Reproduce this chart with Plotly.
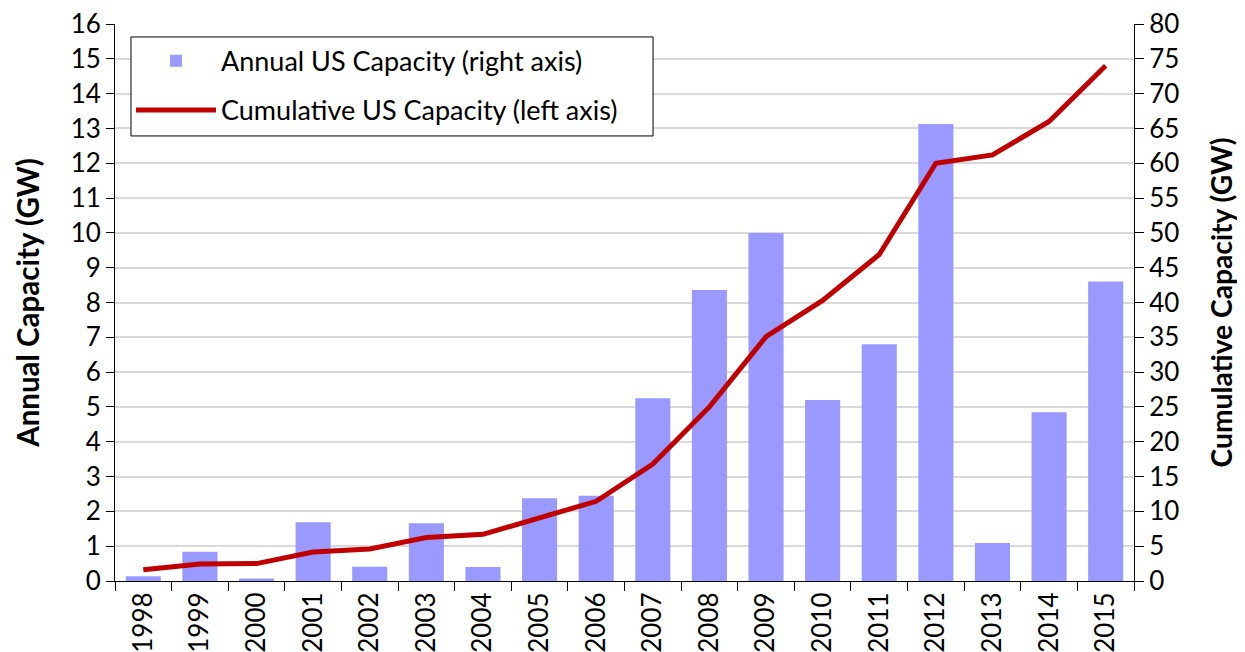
import plotly.graph_objects as go

years = ["1998", "1999", "2000", "2001", "2002", "2003", "2004", "2005", "2006",
         "2007", "2008", "2009", "2010", "2011", "2012", "2013", "2014", "2015"]
annual_gw = [0.14, 0.84, 0.07, 1.69, 0.41, 1.66, 0.40, 2.38, 2.45,
             5.25, 8.36, 10.0, 5.2, 6.8, 13.13, 1.09, 4.85, 8.6]
cumulative_gw = [1.6, 2.45, 2.5, 4.15, 4.6, 6.25, 6.7, 9.0, 11.45,
                 16.8, 25.0, 35.1, 40.3, 46.9, 60.0, 61.2, 66.0, 74.0]
left_ticks = list(range(0, 17))
right_ticks = list(range(0, 81, 5))

FONT = "Lato, 'Open Sans', sans-serif"

fig = go.Figure()
fig.add_trace(go.Bar(
    x=years, y=annual_gw, name="Annual US Capacity (right axis)",
    marker=dict(color="#9999ff", line=dict(width=0)), yaxis="y",
    legendgroup="a",
))
fig.add_trace(go.Scatter(
    x=years, y=cumulative_gw, name="Cumulative US Capacity (left axis)",
    mode="lines", line=dict(color="#c00000", width=5), yaxis="y2",
    legendgroup="b",
))

# legend frame (white box with black border) behind the legend entries
fig.add_shape(
    type="rect", xref="paper", yref="paper",
    x0=0.0157, x1=0.5280, y0=0.799, y1=0.9767,
    line=dict(color="black", width=1), fillcolor="white", layer="above",
)

fig.update_layout(
    width=1237, height=648,
    margin=dict(l=107, r=111, t=16, b=75),
    paper_bgcolor="white", plot_bgcolor="white",
    font=dict(family=FONT, size=26, color="black"),
    bargap=0.38,
    showlegend=True,
    legend=dict(
        x=0.0157, y=0.977, xanchor="left", yanchor="top",
        borderwidth=0, bgcolor="rgba(0,0,0,0)",
        font=dict(family=FONT, size=27, color="black"),
        tracegroupgap=11, itemwidth=80,
    ),
    xaxis=dict(
        type="category", tickson="boundaries", ticks="outside", ticklen=9,
        tickcolor="black", tickangle=-90, showline=True, linecolor="black",
        linewidth=1, showgrid=False, tickfont=dict(size=26), automargin=False,
        ticklabeloverflow="allow",
    ),
    yaxis=dict(
        range=[0, 16], tickvals=left_ticks, ticks="outside", ticklen=8,
        tickcolor="black", showline=True, linecolor="black", linewidth=1,
        showgrid=True, gridcolor="#d9d9d9", gridwidth=1.5, zeroline=False,
        title=dict(text="<b>Annual Capacity (GW)</b>", standoff=22,
                   font=dict(size=29.5)),
        tickfont=dict(size=26), automargin=False, ticklabeloverflow="allow",
    ),
    yaxis2=dict(
        range=[0, 80], tickvals=right_ticks, overlaying="y", side="right",
        ticks="outside", ticklen=9, tickcolor="black", showline=True,
        linecolor="black", linewidth=1, showgrid=False, zeroline=False,
        title=dict(text="<b>Cumulative Capacity (GW)</b>", standoff=33,
                   font=dict(size=28.2)),
        tickfont=dict(size=26), automargin=False, ticklabeloverflow="allow",
    ),
)

fig.write_html("out.html")
